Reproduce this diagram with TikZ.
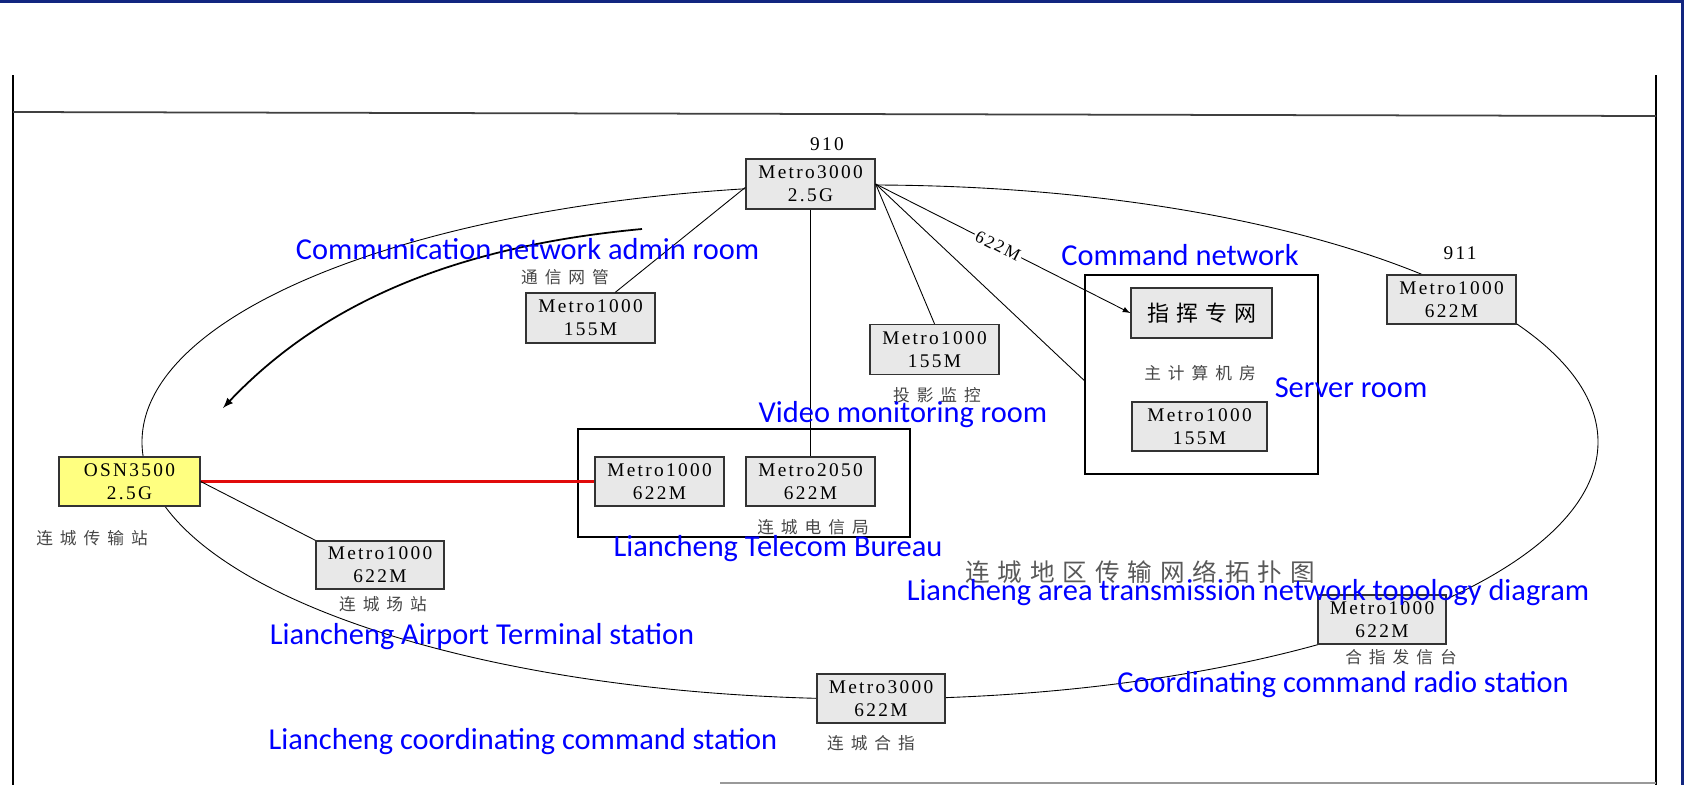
\documentclass[tikz,border=0pt]{standalone}
\usepackage{fontspec}
\setmainfont{Liberation Serif}
\newfontfamily\boxfont[LetterSpace=12]{Liberation Serif}
\newfontfamily\notefont{Carlito}
\newfontfamily\cjk[LetterSpace=42]{Noto Sans CJK SC}
\newfontfamily\cjkwide[LetterSpace=32]{Noto Sans CJK SC}

\definecolor{slideblue}{RGB}{18,38,128}
\definecolor{boxgray}{RGB}{232,232,232}
\definecolor{osnyellow}{RGB}{255,255,128}
\definecolor{notecol}{RGB}{0,0,255}
\definecolor{cjkgray}{RGB}{70,70,70}
\definecolor{fibrered}{RGB}{225,10,10}

\tikzset{
	unit/.style={draw=black!80, fill=boxgray, line width=0.8pt, inner sep=0pt,
		minimum width=2.58cm, minimum height=1cm, align=center,
		font=\boxfont\fontsize{11}{13}\selectfont},
	room/.style={draw=black, line width=0.7pt, inner sep=0pt},
	tag/.style={font=\boxfont\fontsize{11}{13}\selectfont, inner sep=0pt},
	cname/.style={text=cjkgray, font=\cjk\fontsize{9.5}{11}\selectfont, inner sep=0pt},
	note/.style={text=notecol, font=\notefont\fontsize{17.3}{20}\selectfont, inner sep=0pt},
	link/.style={line width=0.5pt},
}

\begin{document}
\begin{tikzpicture}[x=0.02cm, y=-0.02cm]
			%%%%% START %%%%%
			\useasboundingbox (0,0) rectangle (1684,785);
			\fill[white] (0,0) rectangle (1684,785);
			\fill[slideblue] (0,0) rectangle (1684,3);
			\fill[slideblue] (1681,0) rectangle (1684,785);
			
			% frame
			\draw[line width=1.2pt] (13,75) -- (13,785);
			\draw[line width=1.2pt] (1656,75) -- (1656,785);
			\draw[line width=1pt, black!75] (13,112) -- (1656,116);
			\draw[line width=0.8pt, black!40] (720,783) -- (1656,783);
			
			% ring
			\draw[link] (870,442) ellipse (728 and 257);
			
			% rooms
			\node[room, minimum width=4.66cm, minimum height=3.98cm] (srv) at (1201.5,374.5) {};
			\node[room, minimum width=6.64cm, minimum height=2.16cm] (tel) at (744,483) {};
			
			% equipment
			\node[unit] (m3000) at (810.5,184) {Metro3000\\2.5G};
			\node[tag] (n910) at (827,144) {910};
			\node[unit] (nm) at (590.5,318) {Metro1000\\155M};
			\node[unit] (vm) at (934.5,349.5) {Metro1000\\155M};
			\node[unit, minimum width=2.82cm, font=\cjkwide\fontsize{12.5}{14}\selectfont] (cmd) at (1201.5,313) {指挥专网};
			\node[unit, minimum width=2.7cm, minimum height=0.98cm] (sm) at (1199.5,426.5) {Metro1000\\155M};
			\node[unit, minimum height=0.98cm] (m911) at (1451.5,299.5) {Metro1000\\622M};
			\node[tag] (n911) at (1460,253) {911};
			\node[unit, fill=osnyellow, minimum width=2.82cm, minimum height=0.98cm] (osn) at (129.5,481.5) {OSN3500\\2.5G};
			\node[unit, minimum height=0.98cm] (tm1000) at (659.5,481.5) {Metro1000\\622M};
			\node[unit, minimum height=0.98cm] (tm2050) at (810.5,481.5) {Metro2050\\622M};
			\node[unit, minimum width=2.56cm, minimum height=0.96cm] (ap) at (380,565) {Metro1000\\622M};
			\node[unit, minimum width=2.56cm, minimum height=0.98cm] (hz) at (881,698.5) {Metro3000\\622M};
			\node[unit, minimum width=2.56cm, minimum height=0.98cm] (fx) at (1382,619.5) {Metro1000\\622M};
			
			% links
			\draw[link] (m3000.183) -- (nm.46);
			\draw[link] (m3000.south) -- (tm2050.north);
			\draw[link] (m3000.east) -- (vm.north);
			\draw[link] (m3000.east) -- (srv.183);
			\draw[link, -latex] (m3000.east) -- node[pos=0.48, sloped, fill=white, inner sep=1pt, font=\boxfont\fontsize{10}{12}\selectfont] (bw) {622M} (cmd.west);
			\draw[line width=2.2pt, fibrered] (osn.east) -- (tm1000.west);
			\draw[link] (osn.east) -- (ap.north west);
			
			\coordinate (arrS) at (642,229);
			\coordinate (arrE) at (223,408);
			\draw[line width=1pt, -latex] (arrS) .. controls (470,245) and (330,295) .. (arrE);
			
			% chinese labels
			\node[cname] (l-nm) at (565,277) {通信网管};
			\node[cname] (l-vm) at (937,395) {投影监控};
			\node[cname] (l-srv) at (1200,373) {主计算机房};
			\node[cname] (l-tel) at (813,527) {连城电信局};
			\node[cname] (l-osn) at (92,538) {连城传输站};
			\node[cname] (l-ap) at (383,604) {连城场站};
			\node[cname] (l-hz) at (871,743) {连城合指};
			\node[cname] (l-fx) at (1401,657) {合指发信台};
			\node[cname, text=black!65, font=\cjkwide\fontsize{14}{16}\selectfont] (title) at (1140,572) {连城地区传输网络拓扑图};
			
			% english notes
			\node[note] (e-nm) at (527.5,249) {Communication network admin room};
			\node[note] (e-cmd) at (1180,255) {Command network};
			\node[note] (e-srv) at (1351,388) {Server room};
			\node[note] (e-vm) at (903,415) {Video monitoring room};
			\node[note] (e-tel) at (778,549) {Liancheng Telecom Bureau};
			\node[note] (e-title) at (1248,593) {Liancheng area transmission network topology diagram};
			\node[note] (e-ap) at (482,637) {Liancheng Airport Terminal station};
			\node[note] (e-fx) at (1343,685) {Coordinating command radio station};
			\node[note] (e-hz) at (523,742) {Liancheng coordinating command station};
			
			%%%%% END %%%%%
\end{tikzpicture}
\end{document}
